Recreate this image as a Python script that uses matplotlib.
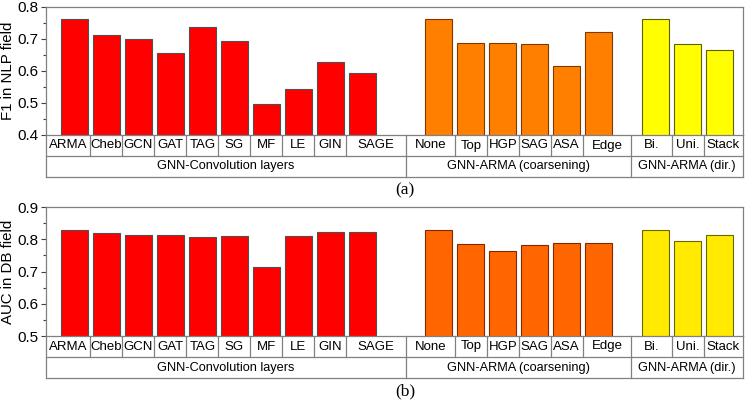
import matplotlib
matplotlib.use('Agg')
import matplotlib.pyplot as plt
import numpy as np

plt.rcParams['font.family'] = ['Liberation Sans', 'DejaVu Sans']

# Category labels per group
conv_layers = ['ARMA', 'Cheb', 'GCN', 'GAT', 'TAG', 'SG', 'MF', 'LE', 'GIN', 'SAGE']
coarsening = ['None', 'Top', 'HGP', 'SAG', 'ASA', 'Edge']
direction = ['Bi.', 'Uni.', 'Stack']
group_names = ['GNN-Convolution layers', 'GNN-ARMA (coarsening)', 'GNN-ARMA (dir.)']

# (a) F1 in NLP field
f1_conv = [0.762, 0.711, 0.699, 0.655, 0.736, 0.693, 0.496, 0.545, 0.629, 0.595]
f1_coarse = [0.762, 0.686, 0.686, 0.684, 0.615, 0.721]
f1_dir = [0.762, 0.683, 0.665]

# (b) AUC in DB field
auc_conv = [0.828, 0.820, 0.813, 0.813, 0.807, 0.809, 0.713, 0.810, 0.824, 0.824]
auc_coarse = [0.828, 0.785, 0.763, 0.782, 0.788, 0.788]
auc_dir = [0.828, 0.794, 0.813]

# x layout (in bar-pitch units)
g_starts = [0.0, 11.39, 18.17]
g_bounds = [-0.89, 10.36, 17.41, 20.9]
bar_w = 0.85

W, H = 747, 401
fig = plt.figure(figsize=(W / 100, H / 100), dpi=100)

frame_col = '#808080'


def draw_panel(top_px, bot_px, groups_vals, colors, edges, ylim, ylabel, tag):
    ax = fig.add_axes([46 / W, 1 - bot_px / H, 697 / W, (bot_px - top_px) / H])
    labels_all = [conv_layers, coarsening, direction]
    row_h = 21 / (bot_px - top_px)
    trans = ax.get_xaxis_transform()
    for gi, (labs, vals) in enumerate(zip(labels_all, groups_vals)):
        xs = g_starts[gi] + np.arange(len(labs))
        ax.bar(xs, vals, width=bar_w, color=colors[gi], edgecolor=edges[gi],
               linewidth=0.8, zorder=2)
        # cell borders for category labels
        cells = [g_bounds[gi]] + list((xs[:-1] + xs[1:]) / 2) + [g_bounds[gi + 1]]
        for k, lab in enumerate(labs):
            cx = (cells[k] + cells[k + 1]) / 2
            ax.text(cx, -row_h / 2, lab, transform=trans, ha='center', va='center',
                    fontsize=9.5)
        for c in cells[1:-1]:
            ax.plot([c, c], [0, -row_h], transform=trans, color=frame_col,
                    lw=0.9, clip_on=False)
        gx = (g_bounds[gi] + g_bounds[gi + 1]) / 2
        ax.text(gx, -1.5 * row_h, group_names[gi], transform=trans, ha='center',
                va='center', fontsize=9.2)
    for b in g_bounds:
        ax.plot([b, b], [0, -2 * row_h], transform=trans, color=frame_col,
                lw=0.9, clip_on=False)
    for yy in [-row_h, -2 * row_h]:
        ax.plot([g_bounds[0], g_bounds[-1]], [yy, yy], transform=trans,
                color=frame_col, lw=0.9, clip_on=False)

    ax.set_xlim(g_bounds[0], g_bounds[-1])
    ax.set_ylim(*ylim)
    ax.set_yticks(np.arange(ylim[0], ylim[1] + 0.001, 0.1))
    ax.set_yticks(np.arange(ylim[0] + 0.05, ylim[1], 0.1), minor=True)
    ax.yaxis.set_major_formatter(matplotlib.ticker.FormatStrFormatter('%.1f'))
    ax.set_xticks([])
    ax.tick_params(axis='y', which='major', length=3.5, width=0.8, color='#404040',
                   labelsize=11, pad=2)
    ax.tick_params(axis='y', which='minor', length=2.5, width=0.8, color='#404040')
    for s in ax.spines.values():
        s.set_color(frame_col)
        s.set_linewidth(0.9)
    ax.set_ylabel(ylabel, fontsize=10.8)
    ax.yaxis.set_label_coords(-31 / 697, 0.5)
    fig.text(405 / W, 1 - (bot_px + 55) / H, tag, ha='center', va='center',
             fontsize=12.5, family='Liberation Serif')
    return ax


draw_panel(7, 135, [f1_conv, f1_coarse, f1_dir],
           ['#FF0000', '#FF8000', '#FFFF00'],
           ['#505050', '#803800', '#606000'],
           (0.4, 0.8), 'F1 in NLP field', '(a)')
draw_panel(207, 336, [auc_conv, auc_coarse, auc_dir],
           ['#FF0000', '#FF6600', '#FFEA00'],
           ['#505050', '#802800', '#6E6400'],
           (0.5, 0.9), 'AUC in DB field', '(b)')

fig.savefig('out.png', dpi=100)
